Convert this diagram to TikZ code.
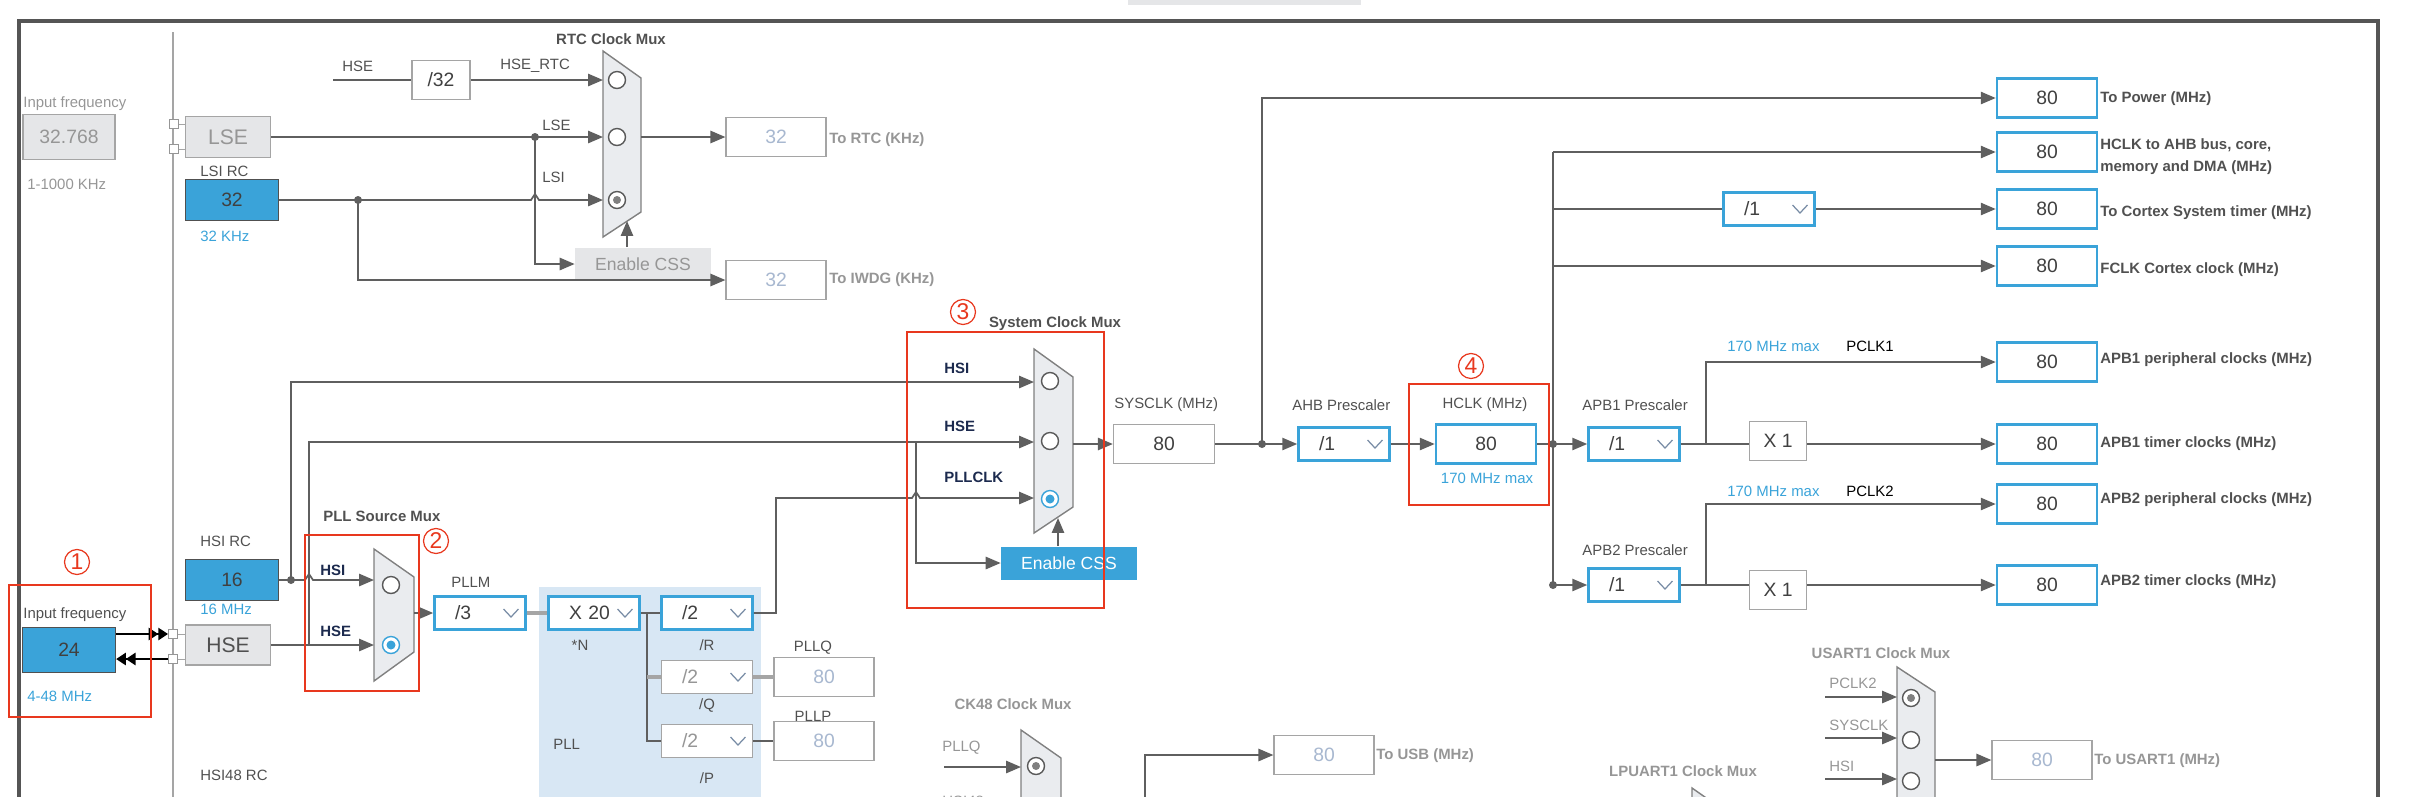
\documentclass[tikz,border=0pt]{standalone}
\usepackage{fontspec}
\setmainfont{Liberation Sans}
\usetikzlibrary{arrows.meta}

\definecolor{cubeblue}{RGB}{58,163,217}
\definecolor{boxgray}{RGB}{229,230,232}
\definecolor{wiregray}{RGB}{95,95,95}
\definecolor{lightline}{RGB}{165,165,165}
\definecolor{txtgray}{RGB}{80,80,80}
\definecolor{offgray}{RGB}{150,150,150}
\definecolor{offnum}{RGB}{168,184,208}
\definecolor{navy}{RGB}{28,42,78}
\definecolor{markred}{RGB}{232,56,30}
\definecolor{pllbg}{RGB}{216,231,244}
\definecolor{muxfill}{RGB}{234,236,239}
\definecolor{framegray}{RGB}{85,85,85}
\definecolor{chevgray}{RGB}{120,140,165}

\tikzset{
  lbl/.style={font=\fontsize{8.5}{10}\selectfont, text=txtgray, inner sep=0pt, anchor=west},
  outlbl/.style={lbl, font=\fontsize{8.5}{12.5}\selectfont\bfseries, align=left},
  muxlbl/.style={lbl, font=\fontsize{8.5}{10}\selectfont\bfseries, anchor=center},
  pinlbl/.style={lbl, font=\fontsize{8.5}{10}\selectfont\bfseries, text=navy},
  wire/.style={draw=wiregray, line width=1pt},
  valbox/.style={draw=cubeblue, line width=1.5pt, fill=white, minimum width=2cm, minimum height=0.78cm, inner sep=0pt, font=\fontsize{11}{11}\selectfont, text=txtgray!80!black},
  offbox/.style={valbox, draw=lightline, line width=0.7pt, text=offnum},
  plainbox/.style={valbox, draw=lightline, line width=0.8pt},
  srcbox/.style={fill=cubeblue, draw=txtgray, line width=0.8pt, minimum width=1.86cm, minimum height=0.82cm, inner sep=0pt, font=\fontsize{11}{11}\selectfont, text=txtgray!80!black},
  greybox/.style={srcbox, fill=boxgray, draw=lightline, minimum width=1.7cm, font=\fontsize{12}{12}\selectfont, text=offgray},
  dropbox/.style={valbox, minimum width=1.82cm, minimum height=0.66cm, text width=1cm, align=left,
    path picture={\draw[chevgray, line width=0.7pt] ([xshift=-0.44cm, yshift=0.08cm]path picture bounding box.east) -- ++(0.15cm,-0.16cm) -- ++(0.15cm,0.16cm);}},
  offdrop/.style={dropbox, draw=lightline, line width=0.7pt, text=offgray},
  padsq/.style={draw=offgray, fill=white, minimum size=0.18cm, inner sep=0pt, line width=0.6pt},
  mux/.style={draw=gray, fill=muxfill, line width=0.8pt},
  ring/.style={draw=gray!70!black, fill=white, line width=0.8pt},
  redbox/.style={draw=markred, line width=1.6pt},
  num/.style={circle, draw=markred, text=markred, line width=0.7pt, minimum size=0.5cm, inner sep=0pt, font=\fontsize{13}{13}\selectfont},
  css/.style={fill=cubeblue, text=white, minimum width=2.72cm, minimum height=0.66cm, inner sep=0pt, font=\fontsize{10}{10}\selectfont}
}

\begin{document}
\begin{tikzpicture}[x=0.02cm, y=-0.02cm, >={Triangle[length=8.5pt, width=7pt]}]
\useasboundingbox (0,0) rectangle (2424,796);
\clip (0,0) rectangle (2424,796);

% frame
\fill[boxgray] (1128,0) rectangle (1361,5);
\draw[framegray, line width=2.3pt] (19,820) -- (19,21) -- (2378,21) -- (2378,820);
\draw[lightline, line width=0.6pt] (173,32) -- (173,820);
\fill[pllbg] (539,587) rectangle (761,820);

% oscillators
\node[lbl, text=offgray] at (23,104) {Input frequency};
\node[greybox, minimum width=1.84cm, minimum height=0.9cm, font=\fontsize{11}{11}\selectfont] (inLse) at (69,137) {32.768};
\node[lbl, text=offgray] at (27,184) {1-1000 KHz};
\node[greybox] (lse) at (228,137) {LSE};
\node[padsq] (sqL1) at (174,124) {};
\node[padsq] (sqL2) at (174,149) {};
\draw[lightline] (sqL1) -- (sqL1 -| lse.west);
\draw[lightline] (sqL2) -- (sqL2 -| lse.west);
\node[lbl] at (200,171) {LSI RC};
\node[srcbox] (lsi) at (232,200) {32};
\node[lbl, text=cubeblue] at (200,236) {32 KHz};

\node[lbl] at (200,541) {HSI RC};
\node[srcbox] (hsi) at (232,580) {16};
\node[lbl, text=cubeblue] at (200,609) {16 MHz};
\node[greybox, minimum height=0.8cm, text=txtgray] (hse) at (228,645) {HSE};
\node[padsq] (sqH1) at (173,634) {};
\node[padsq] (sqH2) at (173,659) {};
\draw[lightline] (sqH1) -- (sqH1 -| hse.west);
\draw[lightline] (sqH2) -- (sqH2 -| hse.west);
\node[lbl] at (23,615) {Input frequency};
\node[srcbox, minimum height=0.9cm] (inHse) at (69,650) {24};
\node[lbl, text=cubeblue] at (27,696) {4-48 MHz};
\draw[black, line width=1pt, -{Triangle[length=5.5pt,width=7pt] Triangle[length=5.5pt,width=7pt]}] (inHse.east |- sqH1) -- (sqH1.west);
\draw[black, line width=1pt, -{Triangle[length=5.5pt,width=7pt] Triangle[length=5.5pt,width=7pt]}] (sqH2.west) -- (inHse.east |- sqH2);
\node[lbl] at (200,775) {HSI48 RC};

% RTC mux
\node[muxlbl] at (611,39) {RTC Clock Mux};
\draw[mux] (603,51) -- (641,78) -- (641,212) -- (603,237) -- cycle;
\draw[ring] (617,80) circle (0.17cm);
\draw[ring] (617,137) circle (0.17cm);
\draw[ring] (617,200) circle (0.17cm);
\fill[gray] (617,200) circle (0.08cm);
\coordinate (rtcI1) at (603,80);
\coordinate (rtcI2) at (603,137);
\coordinate (rtcI3) at (603,200);
\coordinate (rtcO) at (641,137);
\coordinate (rtcS) at (627,221);
\coordinate (hseR) at (333,80);
\coordinate (jLse) at (535,137);
\coordinate (jLsi) at (358,200);
\node[lbl] at (342,66) {HSE};
\node[plainbox, minimum width=1.16cm] (div32) at (441,80) {/32};
\node[lbl] at (500,66) {HSE\_RTC};
\node[lbl] at (542,125) {LSE};
\node[lbl] at (542,177) {LSI};
\node[css, fill=boxgray, text=offgray] (cssRtc) at (643,264) {Enable CSS};
\node[offbox] (rtcOut) at (776,137) {32};
\node[outlbl, text=offgray] at (829,140) {To RTC (KHz)};
\node[offbox] (iwdgOut) at (776,280) {32};
\node[outlbl, text=offgray] at (829,280) {To IWDG (KHz)};
\draw[wire] (hseR) -- (div32);
\draw[wire, ->] (div32) -- (rtcI1);
\draw[wire, ->] (lse) -- (rtcI2);
\fill[wiregray] (jLse) circle (0.08cm);
\draw[wire, ->] (jLse) |- (cssRtc.west);
\draw[wire, ->] (lsi) -- (531,200) -- (535,194) -- (539,200) -- (rtcI3);
\fill[wiregray] (jLsi) circle (0.08cm);
\draw[wire, ->] (jLsi) |- (iwdgOut.west);
\draw[wire, ->] (cssRtc.north -| rtcS) -- (rtcS);
\draw[wire, ->] (rtcO) -- (rtcOut.west);

% PLL source mux
\node[lbl, font=\fontsize{8.5}{10}\selectfont\bfseries] at (323,516) {PLL Source Mux};
\draw[mux] (374,549) -- (414,577) -- (414,652) -- (374,681) -- cycle;
\draw[ring] (391,585) circle (0.17cm);
\draw[ring, draw=cubeblue] (391,645) circle (0.17cm);
\fill[cubeblue] (391,645) circle (0.09cm);
\coordinate (srcI1) at (374,580);
\coordinate (srcI2) at (374,645);
\coordinate (srcO) at (414,613);
\coordinate (jHsi) at (291,580);
\coordinate (jHse) at (309,645);
\node[pinlbl] at (320,570) {HSI};
\node[pinlbl] at (320,631) {HSE};

% PLL
\node[lbl] at (451,582) {PLLM};
\node[dropbox] (pllm) at (480,613) {/3};
\node[dropbox] (plln) at (594,613) {X 20};
\node[dropbox] (pllr) at (707,613) {/2};
\node[offdrop] (pllq) at (707,677) {/2};
\node[offdrop] (pllp) at (707,741) {/2};
\node[lbl, anchor=center] at (580,645) {*N};
\node[lbl, anchor=center] at (707,645) {/R};
\node[lbl, anchor=center] at (707,705) {/Q};
\node[lbl, anchor=center] at (707,778) {/P};
\node[lbl] at (553,744) {PLL};
\node[lbl, anchor=center] at (813,648) {PLLQ};
\node[offbox] (pllqOut) at (824,677) {80};
\node[lbl, anchor=center] at (813,716) {PLLP};
\node[offbox] (pllpOut) at (824,741) {80};
\coordinate (jN) at (647,613);

% system clock mux
\node[muxlbl] at (1055,324) {System Clock Mux};
\draw[mux] (1034,349) -- (1073,377) -- (1073,507) -- (1034,533) -- cycle;
\draw[ring] (1050,381) circle (0.17cm);
\draw[ring] (1050,441) circle (0.17cm);
\draw[ring, draw=cubeblue] (1050,499) circle (0.17cm);
\fill[cubeblue] (1050,499) circle (0.09cm);
\coordinate (sysI1) at (1034,382);
\coordinate (sysI2) at (1034,442);
\coordinate (sysI3) at (1034,498);
\coordinate (sysO) at (1073,444);
\coordinate (sysS) at (1058,518);
\coordinate (jCss) at (916,442);
\node[pinlbl] at (944,368) {HSI};
\node[pinlbl] at (944,426) {HSE};
\node[pinlbl] at (944,477) {PLLCLK};
\node[css] (cssSys) at (1069,563) {Enable CSS};

\draw[wire, ->] (hsi) -- (305,580) -- (309,574) -- (313,580) -- (srcI1);
\fill[wiregray] (jHsi) circle (0.08cm);
\draw[wire, ->] (hse) -- (srcI2);
\draw[wire, ->] (jHsi) |- (sysI1);
\draw[wire, ->] (jHse) |- (sysI2);
\draw[wire, ->] (srcO) -- (pllm.west);
\draw[lightline, line width=1.8pt] (pllm) -- (plln);
\draw[wire] (plln) -- (pllr);
\draw[wire] (jN) |- (pllp);
\draw[lightline, line width=1.8pt] (jN |- pllq) -- (pllq);
\draw[lightline, line width=1.8pt] (pllq) -- (pllqOut);
\draw[wire] (pllp) -- (pllpOut);
\draw[wire, ->] (pllr.east) -| (776,498) -- (912,498) -- (916,492) -- (920,498) -- (sysI3);
\draw[wire, ->] (jCss) |- (cssSys.west);
\draw[wire, ->] (cssSys.north -| sysS) -- (sysS);

% AHB and APB
\node[lbl] at (1114,405) {SYSCLK (MHz)};
\node[plainbox, minimum width=2.02cm] (sysclk) at (1164,444) {80};
\node[lbl] at (1292,405) {AHB Prescaler};
\node[dropbox] (ahb) at (1344,444) {/1};
\node[lbl, anchor=center] at (1485,405) {HCLK (MHz)};
\node[valbox] (hclk) at (1486,444) {80};
\node[lbl, anchor=center, text=cubeblue] at (1487,478) {170 MHz max};
\coordinate (jSys) at (1262,444);
\coordinate (jH) at (1553,444);
\coordinate (hTop) at (1553,152);
\coordinate (jH2) at (1553,585);
\coordinate (jA1) at (1706,444);
\coordinate (jA2) at (1706,585);

\node[valbox] (power) at (2047,98) {80};
\node[outlbl] at (2100,99) {To Power (MHz)};
\node[valbox] (ahbOut) at (2047,152) {80};
\node[outlbl] at (2100,157) {HCLK to AHB bus, core,\\memory and DMA (MHz)};
\node[dropbox] (systick) at (1769,209) {/1};
\node[valbox] (cortexOut) at (2047,209) {80};
\node[outlbl] at (2100,213) {To Cortex System timer (MHz)};
\node[valbox] (fclkOut) at (2047,266) {80};
\node[outlbl] at (2100,270) {FCLK Cortex clock (MHz)};

\node[lbl] at (1582,405) {APB1 Prescaler};
\node[dropbox] (apb1) at (1634,444) {/1};
\node[plainbox, minimum width=1.14cm] (x1a) at (1778,441) {X 1};
\node[lbl, text=cubeblue] at (1727,346) {170 MHz max};
\node[lbl, text=black] at (1846,346) {PCLK1};
\node[valbox] (apb1p) at (2047,362) {80};
\node[outlbl] at (2100,360) {APB1 peripheral clocks (MHz)};
\node[valbox] (apb1t) at (2047,444) {80};
\node[outlbl] at (2100,444) {APB1 timer clocks (MHz)};

\node[lbl] at (1582,550) {APB2 Prescaler};
\node[dropbox] (apb2) at (1634,585) {/1};
\node[plainbox, minimum width=1.14cm] (x1b) at (1778,590) {X 1};
\node[lbl, text=cubeblue] at (1727,491) {170 MHz max};
\node[lbl, text=black] at (1846,491) {PCLK2};
\node[valbox] (apb2p) at (2047,504) {80};
\node[outlbl] at (2100,500) {APB2 peripheral clocks (MHz)};
\node[valbox] (apb2t) at (2047,585) {80};
\node[outlbl] at (2100,582) {APB2 timer clocks (MHz)};

\draw[wire, ->] (sysO) -- (sysclk.west);
\draw[wire] (sysclk) -- (jSys);
\fill[wiregray] (jSys) circle (0.08cm);
\draw[wire, ->] (jSys) -- (ahb);
\draw[wire, ->] (jSys) |- (power.west);
\draw[wire, ->] (ahb) -- (hclk);
\draw[wire] (hclk) -- (jH);
\draw[wire] (hTop) -- (jH2);
\fill[wiregray] (jH) circle (0.08cm);
\fill[wiregray] (jH2) circle (0.08cm);
\draw[wire, ->] (jH) -- (apb1);
\draw[wire, ->] (jH2) -- (apb2);
\draw[wire, ->] (hTop) -- (ahbOut.west);
\draw[wire] (hTop |- systick) -- (systick);
\draw[wire, ->] (systick) -- (cortexOut);
\draw[wire, ->] (hTop |- fclkOut) -- (fclkOut);
\draw[wire] (apb1) -- (jA1) -- (x1a.west |- jA1);
\draw[wire, ->] (x1a.east |- jA1) -- (apb1t);
\draw[wire, ->] (jA1) |- (apb1p.west);
\draw[wire] (apb2) -- (jA2) -- (x1b.west |- jA2);
\draw[wire, ->] (x1b.east |- jA2) -- (apb2t);
\draw[wire, ->] (jA2) |- (apb2p.west);

% peripheral muxes
\node[muxlbl, text=offgray] at (1013,704) {CK48 Clock Mux};
\draw[mux] (1021,730) -- (1061,758) -- (1061,860) -- (1021,890) -- cycle;
\draw[ring] (1036,766) circle (0.17cm);
\fill[gray] (1036,766) circle (0.08cm);
\coordinate (ckS) at (944,767);
\coordinate (ckI1) at (1021,767);
\node[lbl, text=offgray] at (942,748) {PLLQ};
\node[lbl, text=offgray] at (942,801) {HSI48};
\draw[wire, ->] (ckS) -- (ckI1);
\coordinate (usbS) at (1145,820);
\node[offbox] (usbOut) at (1324,755) {80};
\node[outlbl, text=offgray] at (1376,756) {To USB (MHz)};
\draw[wire, ->] (usbS) |- (usbOut.west);

\node[muxlbl, text=offgray] at (1683,771) {LPUART1 Clock Mux};
\draw[mux] (1692,788) -- (1732,816) -- (1732,900) -- (1692,930) -- cycle;

\node[muxlbl, text=offgray] at (1881,653) {USART1 Clock Mux};
\draw[mux] (1897,667) -- (1935,692) -- (1935,830) -- (1897,860) -- cycle;
\draw[ring] (1911,698) circle (0.17cm);
\fill[gray] (1911,698) circle (0.08cm);
\draw[ring] (1911,740) circle (0.17cm);
\draw[ring] (1911,781) circle (0.17cm);
\coordinate (usS1) at (1825,697);
\coordinate (usS2) at (1825,738);
\coordinate (usS3) at (1825,779);
\coordinate (usI1) at (1897,697);
\coordinate (usI2) at (1897,738);
\coordinate (usI3) at (1897,779);
\coordinate (usO) at (1935,760);
\node[lbl, text=offgray] at (1829,683) {PCLK2};
\node[lbl, text=offgray] at (1829,725) {SYSCLK};
\node[lbl, text=offgray] at (1829,766) {HSI};
\draw[wire, ->] (usS1) -- (usI1);
\draw[wire, ->] (usS2) -- (usI2);
\draw[wire, ->] (usS3) -- (usI3);
\node[offbox] (usartOut) at (2042,760) {80};
\node[outlbl, text=offgray] at (2094,761) {To USART1 (MHz)};
\draw[wire, ->] (usO) -- (usartOut.west);

% marks
\draw[redbox] (9,585) rectangle (151,717);
\draw[redbox] (305,535) rectangle (419,691);
\draw[redbox] (907,332) rectangle (1104,608);
\draw[redbox] (1409,384) rectangle (1549,505);
\node[num] at (77,562) {1};
\node[num] at (436,541) {2};
\node[num] at (963,312) {3};
\node[num] at (1471,366) {4};
\end{tikzpicture}
\end{document}
